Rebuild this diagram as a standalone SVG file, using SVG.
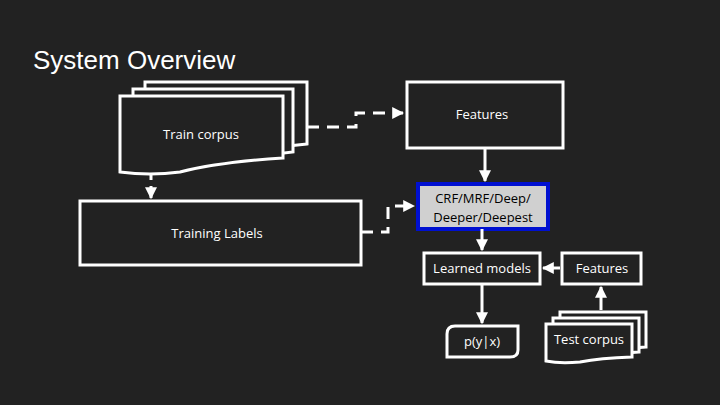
<svg xmlns="http://www.w3.org/2000/svg" width="720" height="405" viewBox="0 0 720 405">
<style>
.b{fill:#222222;stroke:#fff;stroke-width:3}
.t{fill:#fff;font-family:"Open Sans","DejaVu Sans",sans-serif;font-size:13px;text-anchor:middle}
.c{fill:none;stroke:#fff;stroke-width:3}
.d{stroke-dasharray:12 8}
</style>
<defs><marker id="a" viewBox="0 0 10 10" refX="9" refY="5" markerWidth="4" markerHeight="4" orient="auto"><path d="M0,0L10,5L0,10z" fill="#fff"/></marker></defs>
<rect width="720" height="405" fill="#222222"/>
<text x="33" y="69" font-family="Liberation Sans,sans-serif" font-size="26" fill="#fff">System Overview</text>
<g id="train-corpus">
<path class="b" d="M145,82H307V144Q250,150 145,165Z"/>
<path class="b" d="M133,89H293V152Q240,158 133,170Z"/>
<path class="b" d="M120,96H283V158Q220,162 180,172Q150,176 120,172Z"/>
<text class="t" x="201" y="139">Train corpus</text>
</g>
<g id="features"><rect class="b" x="407" y="82" width="156" height="66"/><text class="t" x="482" y="119">Features</text></g>
<g id="training-labels"><rect class="b" x="80" y="201" width="281" height="64"/><text class="t" x="217" y="238">Training Labels</text></g>
<g id="crf"><rect x="418" y="184" width="130" height="45" fill="#d0d0d0" stroke="#0010d0" stroke-width="4"/><text class="t" x="483" y="203" style="fill:#000">CRF/MRF/Deep/</text><text class="t" x="483" y="222" style="fill:#000">Deeper/Deepest</text></g>
<g id="learned-models"><rect class="b" x="424" y="253" width="116" height="31"/><text class="t" x="482" y="273">Learned models</text></g>
<g id="features2"><rect class="b" x="562" y="253" width="79" height="31"/><text class="t" x="602" y="273">Features</text></g>
<g id="pyx"><path class="b" d="M455,326H518V350Q518,357 510,357H447V334Q447,326 455,326Z"/><text class="t" x="482" y="346">p(y|x)</text></g>
<g id="test-corpus">
<path class="b" d="M560,312H646V347Q610,350 560,351Z"/>
<path class="b" d="M553,318H639V352Q600,355 553,356Z"/>
<path class="b" d="M546,324H632V357Q600,358 580,362Q560,364 546,361Z"/>
<text class="t" x="589" y="344">Test corpus</text>
</g>
<g id="connectors">
<path class="c d" d="M307,127H356V113H403" marker-end="url(#a)"/>
<path class="c d" d="M361,232H388V206H414" marker-end="url(#a)"/>
<path class="c" d="M151,173V180" /><path class="c" d="M151,186V198" marker-end="url(#a)"/>
<path class="c" d="M485,148V181" marker-end="url(#a)"/>
<path class="c" d="M482,229V250" marker-end="url(#a)"/>
<path class="c" d="M560,268H543" marker-end="url(#a)"/>
<path class="c" d="M601,310V287" marker-end="url(#a)"/>
<path class="c" d="M482,284V323" marker-end="url(#a)"/>
</g>
</svg>
